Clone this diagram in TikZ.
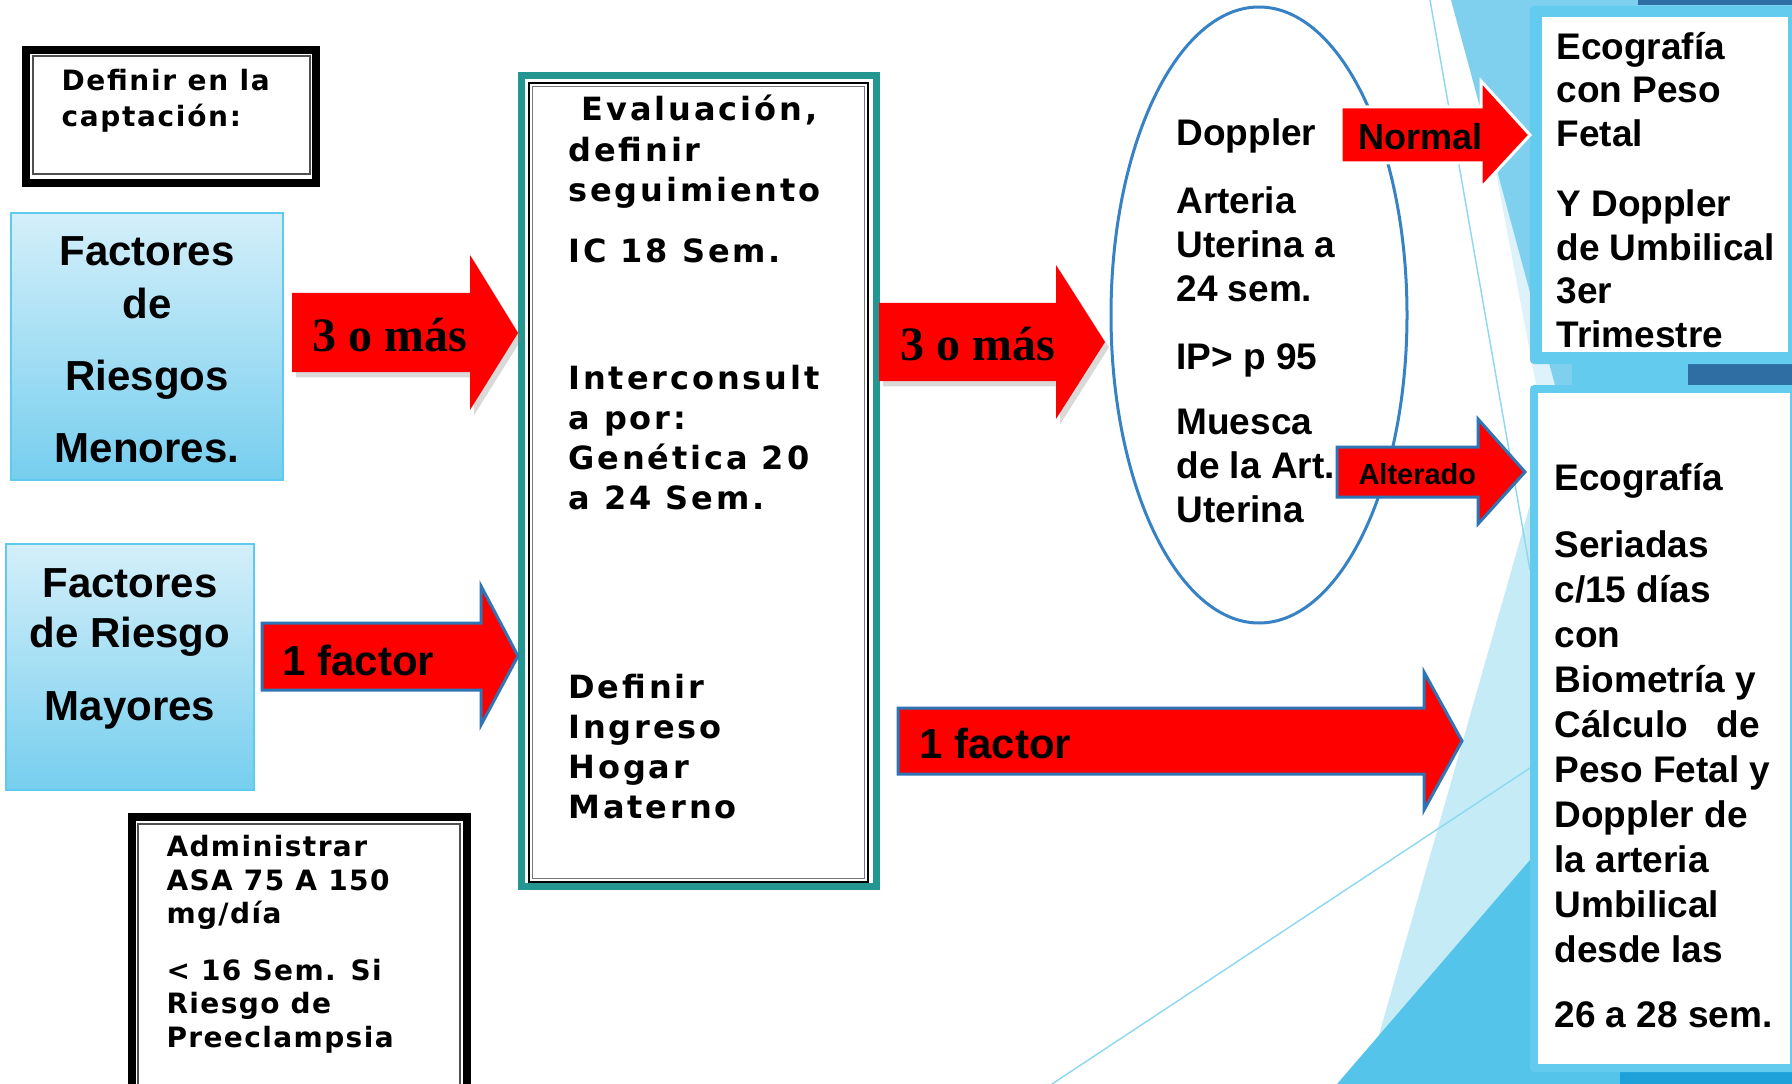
\documentclass[tikz,border=0pt]{standalone}
\usepackage{fontspec}
\setmainfont{Liberation Sans}
\newfontfamily\timesfont{Liberation Serif}
\newfontfamily\capfont{DejaVu Sans}[LetterSpace=6]
\newfontfamily\evalfont{DejaVu Sans}[LetterSpace=9]
\newfontfamily\asafont{DejaVu Sans}[LetterSpace=5]
\usetikzlibrary{shadows}

\tikzset{every picture/.style={line width=0.75pt}}
\tikzset{
	redarrow/.style={fill={rgb, 255:red, 255; green, 0; blue, 0 }},
	rimmed/.style={draw={rgb, 255:red, 46; green, 117; blue, 182 }, line width=2.25pt},
	shadowed/.style={drop shadow={shadow xshift=3pt, shadow yshift=-4pt, opacity=0.3}},
	framebox/.style={fill={rgb, 255:red, 98; green, 203; blue, 238 }, rounded corners=3pt},
	riskbox/.style={draw={rgb, 255:red, 96; green, 201; blue, 238 }, line width=1.5pt, top color={rgb, 255:red, 212; green, 239; blue, 250 }, bottom color={rgb, 255:red, 118; green, 206; blue, 238 }},
	bigtext/.style={font={\fontsize{31.5}{39.75}\selectfont\bfseries}},
	rtext/.style={font={\fontsize{27.75}{33}\selectfont\bfseries}, align=left, anchor=base west, inner sep=0pt},
	evaltext/.style={font={\fontsize{24}{30}\evalfont\bfseries}, align=left, anchor=base west, inner sep=0pt},
	tresmas/.style={font={\fontsize{36}{36}\timesfont\bfseries}, anchor=base west, inner sep=0pt}
}

\begin{document}
\begin{tikzpicture}[x=0.75pt,y=0.75pt,yscale=-1,xscale=1]
	\useasboundingbox (0,0) rectangle (1792,1084);

	%Shape: background facets
	\fill [color={rgb, 255:red, 221; green, 242; blue, 250 }] (1493,157) -- (1539,400) -- (1792,400) -- (1792,157) -- cycle ;
	\fill [color={rgb, 255:red, 127; green, 208; blue, 238 }] (1451,0) -- (1792,0) -- (1792,400) -- (1559,400) -- cycle ;
	\fill [color={rgb, 255:red, 197; green, 235; blue, 247 }] (1365,1084) -- (1530,505) -- (1792,505) -- (1792,1084) -- cycle ;
	\fill [color={rgb, 255:red, 85; green, 196; blue, 234 }] (1337,1084) -- (1792,556) -- (1792,1084) -- cycle ;
	%Straight Lines
	\draw [color={rgb, 255:red, 143; green, 216; blue, 242 }, line width=1.1pt] (1430,0) -- (1530,570) ;
	\draw [color={rgb, 255:red, 143; green, 216; blue, 242 }, line width=1.1pt] (1052,1084) -- (1530,768) ;
	%Shape: dark strips
	\fill [color={rgb, 255:red, 46; green, 110; blue, 163 }] (1638,0) rectangle (1792,5) ;
	\fill [color={rgb, 255:red, 98; green, 203; blue, 238 }] (1572,362) rectangle (1688,387) ;
	\fill [color={rgb, 255:red, 46; green, 110; blue, 163 }] (1688,362) rectangle (1792,387) ;
	\fill [color={rgb, 255:red, 30; green, 160; blue, 216 }] (1620,1070) rectangle (1792,1084) ;

	%Shape: Rectangle (top right)
	\draw [framebox, draw=none] (1530,6) rectangle (1800,364) ;
	\fill [white] (1542,17) rectangle (1788,352) ;
	%Shape: Rectangle (bottom right)
	\draw [framebox, draw=none] (1530,385) rectangle (1800,1072) ;
	\fill [white] (1538,393) rectangle (1790,1064) ;

	%Shape: Rectangle (Definir)
	\draw [line width=6pt] (26,50) rectangle (316,183) ;
	\draw [color={rgb, 255:red, 80; green, 80; blue, 80 }, line width=1.1pt] (33,56) rectangle (310,174) ;
	%Shape: Rectangle (factores menores)
	\draw [riskbox] (11,213) rectangle (283,480) ;
	%Shape: Rectangle (factores mayores)
	\draw [riskbox] (6,544) rectangle (254,790) ;
	%Shape: Rectangle (Administrar)
	\draw [line width=6pt] (132,817) rectangle (467,1100) ;
	\draw [color={rgb, 255:red, 80; green, 80; blue, 80 }, line width=1.1pt] (138,824) rectangle (460,1095) ;
	%Shape: Rectangle (evaluacion)
	\draw [color={rgb, 255:red, 35; green, 150; blue, 145 }, line width=5.25pt] (521.5,75.5) rectangle (876.5,886.5) ;
	\draw [line width=1.3pt] (529,83) rectangle (868,882) ;
	\draw [color={rgb, 255:red, 120; green, 120; blue, 120 }, line width=1.1pt] (532.5,86.5) rectangle (864.5,878.5) ;
	%Shape: Ellipse
	\draw [color={rgb, 255:red, 55; green, 130; blue, 196 }, line width=2.25pt] (1259,315) ellipse [x radius=148, y radius=308] ;

	%Right Arrow
	\fill [redarrow, shadowed] (292,293) -- (470,293) -- (470,255) -- (518,333) -- (470,410) -- (470,372) -- (292,372) -- cycle ;
	%Right Arrow
	\fill [redarrow, shadowed] (879,303) -- (1056,303) -- (1056,265) -- (1105,342) -- (1056,419) -- (1056,381) -- (879,381) -- cycle ;
	%Right Arrow
	\draw [redarrow, rimmed] (262,623) -- (481,623) -- (481,586) -- (518,656) -- (481,725) -- (481,690) -- (262,690) -- cycle ;
	%Right Arrow
	\draw [redarrow, rimmed] (898,708) -- (1424,708) -- (1424,672) -- (1462,741) -- (1424,810) -- (1424,774) -- (898,774) -- cycle ;
	%Right Arrow
	\draw [redarrow, draw=white, line width=2.25pt] (1341,107) -- (1481,107) -- (1481,81) -- (1530,135) -- (1481,188) -- (1481,163) -- (1341,163) -- cycle ;
	%Right Arrow
	\draw [redarrow, rimmed] (1337,447) -- (1478,447) -- (1478,419) -- (1525,472) -- (1478,524) -- (1478,497) -- (1337,497) -- cycle ;

	% Text Node (base = last line)
	\draw (61,127) node [anchor=base west, align=left, inner sep=0pt, font={\fontsize{21}{27}\capfont\bfseries}] (captacion) {Definir en la\\captación:};
	% Text Node
	\draw (147,462) node [anchor=base, align=center, inner sep=0pt, bigtext] (menores) {Factores\\de\\[14.25pt]Riesgos\\[14.25pt]Menores.};
	% Text Node
	\draw (130,720) node [anchor=base, align=center, inner sep=0pt, font={\fontsize{31.5}{37.5}\selectfont\bfseries}] (mayores) {Factores\\de Riesgo\\[17.25pt]Mayores};
	% Text Node
	\draw (166,1047) node [anchor=base west, align=left, inner sep=0pt, font={\fontsize{21}{25}\asafont\bfseries}] (asa) {Administrar\\ASA 75 A 150\\mg/día\\[17.6pt]\textless{} 16 Sem. Si\\Riesgo de\\Preeclampsia};
	% Text Node
	\draw (568,263) node [evaltext] (evalua) {\hspace*{10pt}Evaluación,\\definir\\seguimiento\\[16.5pt]IC 18 Sem.};
	% Text Node
	\draw (568,509) node [evaltext] (intercons) {Interconsult\\a por:\\Genética 20\\a 24 Sem.};
	% Text Node
	\draw (568,818) node [evaltext] (hogar) {Definir\\Ingreso\\Hogar\\Materno};
	% Text Node
	\draw (1176,522) node [rtext] (doppler) {Doppler\\[18pt]Arteria\\Uterina a\\24 sem.\\[18pt]IP\textgreater{} p 95\\[15.75pt]Muesca\\de la Art.\\Uterina};
	% Text Node
	\draw (1556,348) node [rtext] (pesofetal) {Ecografía\\con Peso\\Fetal\\[18.75pt]Y Doppler\\de Umbilical\\3er\\Trimestre};
	% Text Node
	\draw (1554,1027) node [rtext, font={\fontsize{27.75}{33.75}\selectfont\bfseries}] (seriadas) {Ecografía\\[16.5pt]Seriadas\\c/15 días\\con\\Biometría y\\Cálculo\enspace\ de\\Peso Fetal y\\Doppler de\\la arteria\\Umbilical\\desde las\\[15pt]26 a 28 sem.};

	% Text Node
	\draw (312,351) node [tresmas] (tresA) {3 o más};
	% Text Node
	\draw (900,360) node [tresmas] (tresB) {3 o más};
	% Text Node
	\draw (282,675) node [anchor=base west, inner sep=0pt, bigtext] (unoA) {1 factor};
	% Text Node
	\draw (919,758) node [anchor=base west, inner sep=0pt, bigtext] (unoB) {1 factor};
	% Text Node
	\draw (1358,150) node [anchor=base west, inner sep=0pt, font={\fontsize{27}{27}\selectfont\bfseries}] (normal) {Normal};
	% Text Node
	\draw (1358,484) node [anchor=base west, inner sep=0pt, font={\fontsize{21.75}{21.75}\selectfont\bfseries}] (alterado) {Alterado};

\end{tikzpicture}
\end{document}
